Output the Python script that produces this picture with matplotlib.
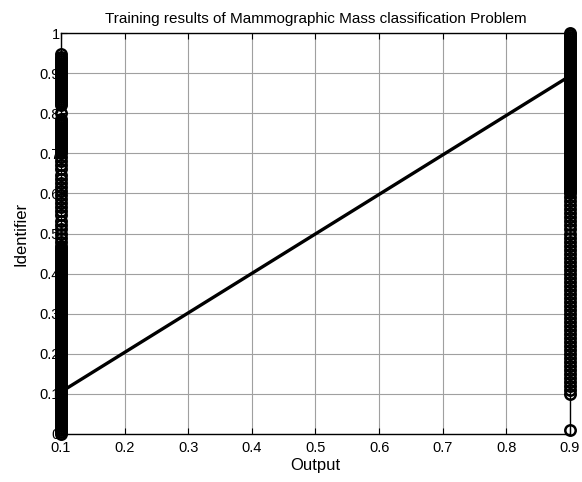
import matplotlib
matplotlib.use("Agg")
import matplotlib.pyplot as plt
import numpy as np

plt.rcParams['font.family'] = ['Liberation Sans', 'DejaVu Sans']

# outputs of the two classes (x) and the identifier values (y)
class_x = [0.1, 0.9]

low_y = [0.000, 0.005, 0.010, 0.015, 0.020, 0.025, 0.030, 0.035, 0.040, 0.045,
         0.050, 0.055, 0.060, 0.065, 0.070, 0.075, 0.080, 0.085, 0.090, 0.095,
         0.100, 0.105, 0.110, 0.115, 0.120, 0.125, 0.130, 0.135, 0.140, 0.145,
         0.150, 0.155, 0.160, 0.165, 0.170, 0.175, 0.180, 0.185, 0.190, 0.195,
         0.200, 0.205, 0.210, 0.215, 0.220, 0.225, 0.230, 0.235, 0.240, 0.245,
         0.250, 0.255, 0.260, 0.265, 0.270, 0.275, 0.280, 0.285, 0.290, 0.295,
         0.300, 0.305, 0.310, 0.315, 0.320, 0.325, 0.330, 0.335, 0.340, 0.345,
         0.350, 0.355, 0.360, 0.365, 0.370, 0.375, 0.380, 0.385, 0.390, 0.395,
         0.400, 0.405, 0.410, 0.415, 0.420, 0.425, 0.430, 0.435, 0.440, 0.445,
         0.450, 0.455, 0.460, 0.465, 0.470,
         0.480, 0.490, 0.500, 0.510, 0.520, 0.530, 0.545, 0.555, 0.565, 0.575,
         0.585, 0.595, 0.605, 0.615, 0.625, 0.635, 0.645, 0.660, 0.670, 0.680,
         0.690,
         0.700, 0.705, 0.710, 0.715, 0.720, 0.725, 0.730, 0.735, 0.740, 0.745,
         0.750, 0.755, 0.760, 0.765, 0.770, 0.775, 0.780, 0.785,
         0.800,
         0.820, 0.825, 0.830, 0.835, 0.840, 0.845, 0.850, 0.855, 0.860, 0.865,
         0.870, 0.875, 0.880, 0.885, 0.890, 0.895, 0.900, 0.905, 0.910, 0.915,
         0.920, 0.925, 0.930, 0.935, 0.940, 0.948]

high_y = [0.010,
          0.100, 0.110, 0.120, 0.130, 0.140, 0.150, 0.160, 0.170, 0.180, 0.190,
          0.200, 0.210, 0.220, 0.230, 0.240, 0.250, 0.260, 0.270, 0.280, 0.290,
          0.300, 0.310, 0.320, 0.330, 0.340, 0.350, 0.360, 0.370, 0.380, 0.390,
          0.400, 0.410, 0.420, 0.430, 0.440, 0.450, 0.460, 0.470, 0.480, 0.490,
          0.500, 0.510, 0.520, 0.530, 0.540, 0.550, 0.560, 0.570, 0.580, 0.590,
          0.600, 0.605, 0.610, 0.615, 0.620, 0.625, 0.630, 0.635, 0.640, 0.645,
          0.650, 0.655, 0.660, 0.665, 0.670, 0.675, 0.680, 0.685, 0.690, 0.695,
          0.700, 0.705, 0.710, 0.715, 0.720, 0.725, 0.730, 0.735, 0.740, 0.745,
          0.750, 0.755, 0.760, 0.765, 0.770, 0.775, 0.780, 0.785, 0.790, 0.795,
          0.800, 0.805, 0.810, 0.815, 0.820, 0.825, 0.830, 0.835, 0.840, 0.845,
          0.850, 0.855, 0.860, 0.865, 0.870, 0.875, 0.880, 0.885, 0.890, 0.895,
          0.900, 0.905, 0.910, 0.915, 0.920, 0.925, 0.930, 0.935, 0.940, 0.945,
          0.950, 0.955, 0.960, 0.965, 0.970, 0.975, 0.980, 0.985, 0.990, 0.995,
          1.000]

# fitted line end points
fit_x = [0.1, 0.9]
fit_y = [0.105, 0.893]

x_ticks = [0.1, 0.2, 0.3, 0.4, 0.5, 0.6, 0.7, 0.8, 0.9]
y_ticks = [0, 0.1, 0.2, 0.3, 0.4, 0.5, 0.6, 0.7, 0.8, 0.9, 1]

fig = plt.figure(figsize=(5.82, 4.82), dpi=100)
ax = fig.add_axes([0.1048, 0.0996, 0.8745, 0.8319])

ax.plot([class_x[0]] * len(low_y), low_y, 'o', mfc='none', mec='k',
        ms=7.5, mew=1.8, clip_on=False, zorder=3)
ax.plot([class_x[1]] * len(high_y), high_y, 'o', mfc='none', mec='k',
        ms=7.5, mew=1.8, clip_on=False, zorder=3)
ax.plot(fit_x, fit_y, 'k-', lw=2.4, zorder=4)

ax.set_xlim(0.1, 0.9)
ax.set_ylim(0, 1)
ax.set_xticks(x_ticks)
ax.set_yticks(y_ticks)
ax.set_xticklabels(['%g' % t for t in x_ticks])
ax.set_yticklabels(['%g' % t for t in y_ticks])
ax.grid(True, color='#a0a0a0', lw=0.8)
ax.set_axisbelow(True)
ax.tick_params(direction='in', length=4, top=True, right=True,
               labelsize=10.5)
ax.tick_params(axis='x', pad=5)
ax.tick_params(axis='y', pad=1)
for s in ax.spines.values():
    s.set_linewidth(1.0)

ax.set_xlabel('Output', fontsize=12, labelpad=2)
ax.set_ylabel('Identifier', fontsize=12, labelpad=8)
ax.set_title('Training results of Mammographic Mass classification Problem',
             fontsize=11, pad=7)

fig.savefig('out.png', dpi=100)
